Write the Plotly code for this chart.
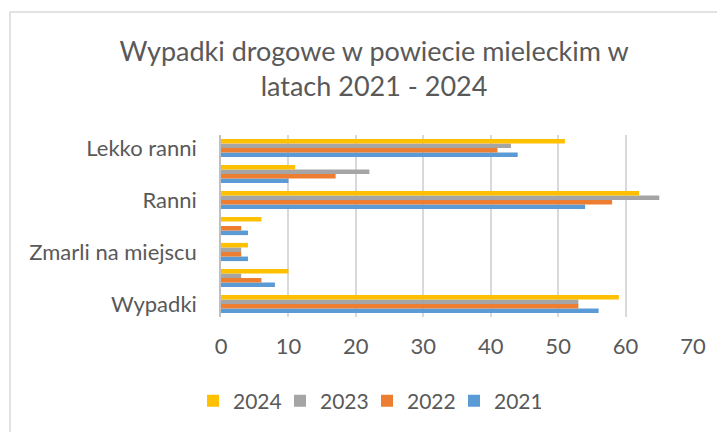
import plotly.graph_objects as go

categories = ["Wypadki", "Zabici", "Zmarli na miejscu", "Zmarli do 30 dni", "Ranni", "Ciężko ranni", "Lekko ranni"]
shown_labels = ["Wypadki", "Zmarli na miejscu", "Ranni", "Lekko ranni"]
years = ["2021", "2022", "2023", "2024"]
v2021 = [56, 8, 4, 4, 54, 10, 44]
v2022 = [53, 6, 3, 3, 58, 17, 41]
v2023 = [53, 3, 3, 0, 65, 22, 43]
v2024 = [59, 10, 4, 6, 62, 11, 51]
colors = ["#5B9BD5", "#ED7D31", "#A5A5A5", "#FFC000"]

W, H = 725, 432
# page body has an 8px offset; positions below are in figure coordinates
ml, mr, mt, mb = 213, 40, 127, 123

fig = go.Figure()
for name, vals, c in zip(years, [v2021, v2022, v2023, v2024], colors):
    fig.add_trace(go.Bar(y=categories, x=vals, name=name, orientation="h",
                         marker=dict(color=c, line=dict(width=0))))

pw = W - ml - mr
ph = H - mt - mb
fig.add_shape(type="rect", xref="paper", yref="paper",
              x0=(2 - ml) / pw, x1=(W + 40 - ml) / pw,
              y0=-1.0, y1=((H - mb) - 4) / ph,
              line=dict(color="#D9D9D9", width=1.5), fillcolor="rgba(0,0,0,0)", layer="below")

fig.update_layout(
    width=W, height=H,
    margin=dict(l=ml, r=mr, t=mt, b=mb),
    paper_bgcolor="white", plot_bgcolor="white",
    font=dict(family="Lato, Open Sans, sans-serif", color="#595959"),
    title=dict(text="Wypadki drogowe w powiecie mieleckim w<br>latach 2021 - 2024",
               x=366 / W, xanchor="center", y=1 - 53 / H, yanchor="top",
               font=dict(size=27, color="#595959")),
    barmode="group", bargap=0.3, bargroupgap=0,
    showlegend=True,
    legend=dict(orientation="h", x=359 / W, xanchor="center", xref="container",
                y=1 - 393 / H, yref="container", yanchor="middle",
                traceorder="reversed", font=dict(size=21, color="#595959"),
                itemwidth=30, entrywidth=42, entrywidthmode="pixels"),
    xaxis=dict(range=[0, 70], dtick=10, showgrid=True, gridcolor="#D9D9D9", gridwidth=1.5,
               zeroline=False, showline=False, tickfont=dict(size=22, color="#595959"),
               ticks="", ticklabelstandoff=14),
    yaxis=dict(type="category", categoryorder="array", categoryarray=categories,
               tickvals=shown_labels, ticktext=shown_labels,
               showline=True, linecolor="#BFBFBF", linewidth=1.5, ticks="",
               tickfont=dict(size=22, color="#595959"), ticklabelstandoff=18),
)

fig.write_html("out.html")
